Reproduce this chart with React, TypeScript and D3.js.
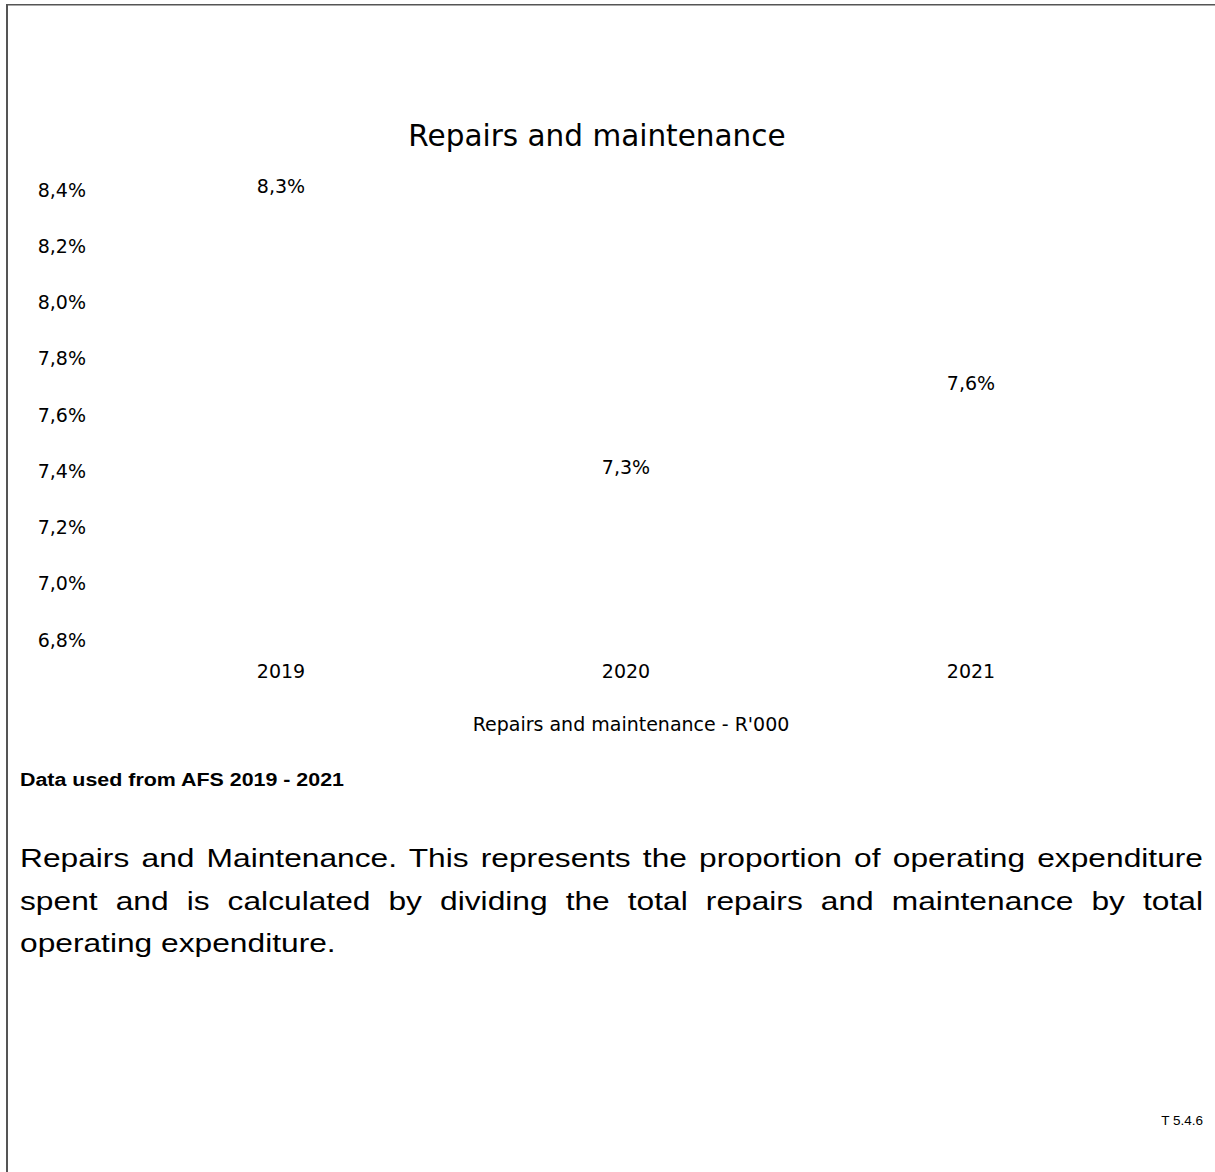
import React, { useEffect, useRef } from "react";
import * as d3 from "d3";

const years = ["2019", "2020", "2021"];
const ratios = [8.3, 7.3, 7.6];
const yTickValues = [6.8, 7.0, 7.2, 7.4, 7.6, 7.8, 8.0, 8.2, 8.4];
const chartTitle = "Repairs and maintenance";
const axisTitle = "Repairs and maintenance - R'000";
const sourceNote = "Data used from AFS 2019 - 2021";
const paragraphLines = [
  "Repairs and Maintenance. This represents the proportion of operating expenditure",
  "spent and is calculated by dividing the total repairs and maintenance by total",
  "operating expenditure.",
];
const footnote = "T 5.4.6";

const W = 1215;
const H = 1172;
const PARA_SCALE = 1.22;
const PARA_LEFT = 20;
const PARA_RIGHT = 1203;

const fmtPct = (v: number) => d3.format(".1f")(v).replace(".", ",") + "%";

export default function App() {
  const lineRefs = useRef<(SVGTextElement | null)[]>([]);

  const x = d3.scalePoint<string>().domain(years).range([281, 971]);
  const y = d3.scaleLinear().domain([6.8, 8.4]).range([640, 190]);

  useEffect(() => {
    const target = (PARA_RIGHT - PARA_LEFT) / PARA_SCALE;
    lineRefs.current.forEach((el, i) => {
      if (!el || i === paragraphLines.length - 1) return;
      el.setAttribute("word-spacing", "0");
      const w = el.getComputedTextLength();
      const gaps = (paragraphLines[i].match(/ /g) || []).length;
      if (gaps > 0) el.setAttribute("word-spacing", String((target - w) / gaps));
    });
  }, []);

  const chartFont = "'DejaVu Sans', sans-serif";
  const arial = "'Liberation Sans', Arial, sans-serif";

  return (
    <svg
      width={W}
      height={H}
      style={{ position: "absolute", left: 0, top: 0, display: "block", background: "#fff" }}
    >
      <rect x={0} y={0} width={W} height={H} fill="#fff" />
      {/* frame */}
      <line x1={6} x2={W} y1={4.75} y2={4.75} stroke="#555" strokeWidth={1.5} />
      <line x1={7} x2={7} y1={4} y2={H} stroke="#555" strokeWidth={2} />

      {/* title */}
      <text
        x={597}
        y={136}
        dy="0.35em"
        textAnchor="middle"
        fontFamily={chartFont}
        fontSize={29.5}
        fill="#000"
      >
        {chartTitle}
      </text>

      {/* y tick labels */}
      {yTickValues.map((t) => (
        <text
          key={t}
          x={86}
          y={y(t)}
          dy="0.35em"
          textAnchor="end"
          fontFamily={chartFont}
          fontSize={19}
          fill="#000"
        >
          {fmtPct(t)}
        </text>
      ))}

      {/* x tick labels */}
      {years.map((yr) => (
        <text
          key={yr}
          x={x(yr)}
          y={671}
          dy="0.35em"
          textAnchor="middle"
          fontFamily={chartFont}
          fontSize={19}
          fill="#000"
        >
          {yr}
        </text>
      ))}

      {/* data labels (series drawn without visible line/markers) */}
      {years.map((yr, i) => (
        <text
          key={"lbl" + yr}
          x={x(yr)}
          y={y(ratios[i]) - 32}
          dy="0.35em"
          textAnchor="middle"
          fontFamily={chartFont}
          fontSize={19}
          fill="#000"
        >
          {fmtPct(ratios[i])}
        </text>
      ))}

      {/* axis title */}
      <text
        x={631}
        y={724}
        dy="0.35em"
        textAnchor="middle"
        fontFamily={chartFont}
        fontSize={19}
        fill="#000"
      >
        {axisTitle}
      </text>

      {/* source note */}
      <text
        x={20}
        y={780}
        dy="0.35em"
        fontFamily={arial}
        fontWeight="bold"
        fontSize={18}
        textLength={324}
        lengthAdjust="spacingAndGlyphs"
        fill="#000"
      >
        {sourceNote}
      </text>

      {/* paragraph */}
      {paragraphLines.map((ln, i) => (
        <g key={i} transform={`translate(${PARA_LEFT},${858 + i * 42.5}) scale(${PARA_SCALE},1)`}>
          <text
            ref={(el) => {
              lineRefs.current[i] = el;
            }}
            x={0}
            y={0}
            dy="0.35em"
            fontFamily={arial}
            fontSize={26}
            fill="#000"
          >
            {ln}
          </text>
        </g>
      ))}

      {/* footnote */}
      <text
        x={1203}
        y={1120}
        dy="0.35em"
        textAnchor="end"
        fontFamily={arial}
        fontSize={13.5}
        fill="#000"
      >
        {footnote}
      </text>
    </svg>
  );
}
